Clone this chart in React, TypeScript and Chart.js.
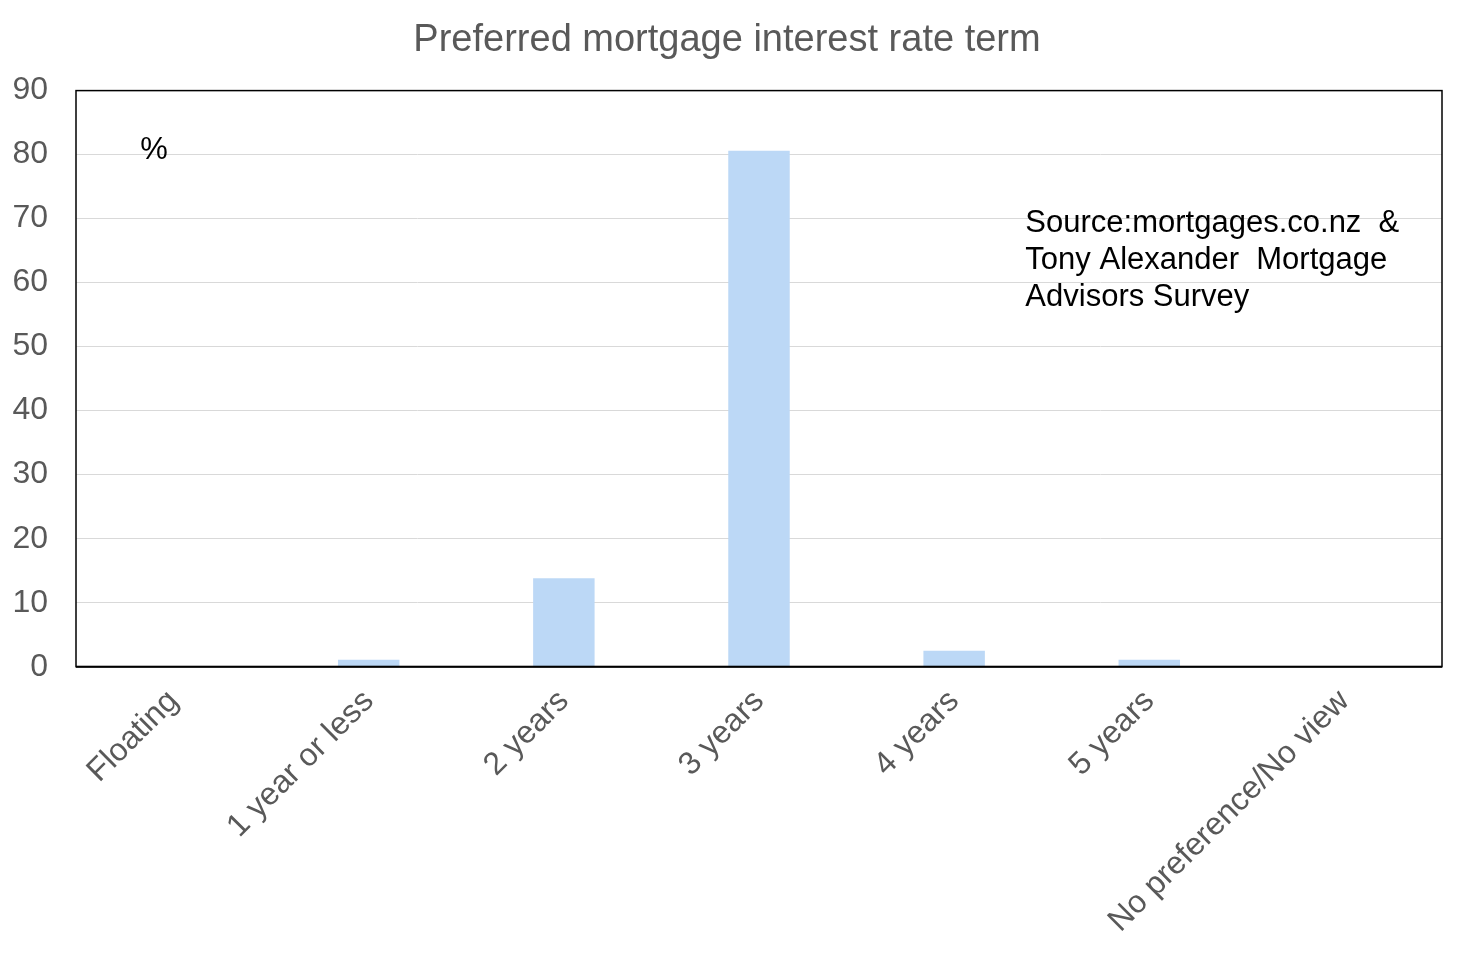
import React, { useEffect, useRef } from 'react';
import Chart from 'chart.js/auto';

// categories and survey share (%)
const categories = ['Floating', '1 year or less', '2 years', '3 years', '4 years', '5 years', 'No preference/No view'];
const shares = [0, 1.1, 13.8, 80.6, 2.5, 1.1, 0];
const sourceLines = ['Source:mortgages.co.nz  &', 'Tony Alexander  Mortgage', 'Advisors Survey'];

const FONT = '"Liberation Sans", Arial, sans-serif';

// draws the box round the plot area plus the two text notes
const boxAndNotes = {
  id: 'boxAndNotes',
  afterDraw(chart: any) {
    const { ctx, chartArea, scales } = chart;
    const { left, top, right, bottom } = chartArea;
    ctx.save();
    ctx.strokeStyle = '#000000';
    ctx.lineWidth = 1.5;
    ctx.strokeRect(left, top, right - left, bottom - top);
    ctx.lineWidth = 2;
    ctx.beginPath();
    ctx.moveTo(left, bottom);
    ctx.lineTo(right, bottom);
    ctx.stroke();

    ctx.fillStyle = '#000000';
    ctx.font = '31px ' + FONT;
    ctx.textBaseline = 'middle';
    ctx.textAlign = 'left';
    const w = right - left;
    ctx.fillText('%', left + w * 0.047, scales.y.getPixelForValue(80.6));
    const sx = left + w * 0.695;
    const ys = [69.2, 63.4, 57.7];
    sourceLines.forEach((line, i) => {
      ctx.fillText(line, sx, scales.y.getPixelForValue(ys[i]));
    });
    ctx.restore();
  },
};

const App = () => {
  const chartRef = useRef<HTMLCanvasElement>(null);
  const chartInstanceRef = useRef<Chart>();

  useEffect(() => {
    document.body.style.margin = '0';
    if (chartRef.current) {
      const ctx = chartRef.current.getContext('2d');
      if (ctx) {
        if (chartInstanceRef.current) {
          chartInstanceRef.current.destroy();
        }
        chartInstanceRef.current = new Chart(ctx, {
          type: 'bar',
          data: {
            labels: categories,
            datasets: [{
              data: shares,
              backgroundColor: '#bcd8f6',
              borderWidth: 0,
              barPercentage: 0.315,
              categoryPercentage: 1,
            }],
          },
          options: {
            animation: false,
            responsive: false,
            layout: { padding: { left: 12, right: 22, top: 0, bottom: 6 } },
            plugins: {
              legend: { display: false },
              tooltip: { enabled: false },
              title: {
                display: true,
                text: 'Preferred mortgage interest rate term',
                color: '#595959',
                font: { family: FONT, size: 38, weight: 'normal' },
                padding: { top: 18, bottom: 27 },
              },
            },
            scales: {
              x: {
                grid: { display: false },
                border: { display: false },
                ticks: {
                  color: '#595959',
                  font: { family: FONT, size: 32 },
                  maxRotation: 45,
                  minRotation: 45,
                  padding: 8,
                },
              },
              y: {
                min: 0,
                max: 90,
                grid: { color: '#d9d9d9', lineWidth: 1, drawTicks: false },
                border: { display: false },
                afterFit(scale: any) {
                  scale.width = 64;
                },
                ticks: {
                  stepSize: 10,
                  color: '#595959',
                  font: { family: FONT, size: 32 },
                  padding: 28,
                },
              },
            },
          },
          plugins: [boxAndNotes],
        });
      }
    }
    return () => {
      if (chartInstanceRef.current) {
        chartInstanceRef.current.destroy();
      }
    };
  }, []);

  return (
    <div style={{ width: 1464, height: 954, background: '#ffffff' }}>
      <canvas ref={chartRef} width={1464} height={954} />
    </div>
  );
};

export default App;
